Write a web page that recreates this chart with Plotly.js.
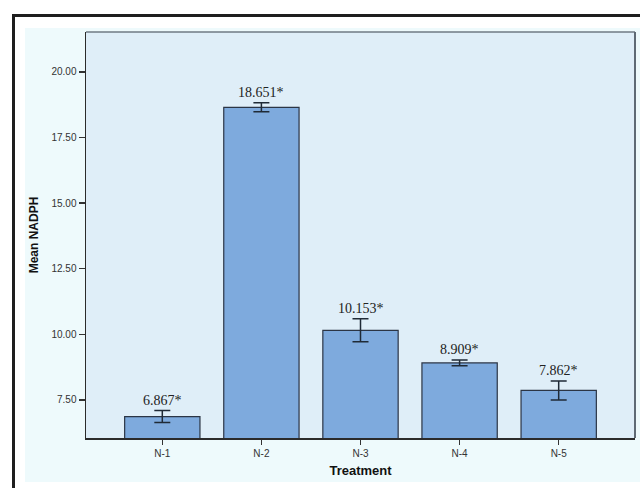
<!DOCTYPE html>
<html>
<head>
<meta charset="utf-8">
<script src="https://cdn.plot.ly/plotly-3.0.1.min.js"></script>
<style>
  html, body { margin: 0; padding: 0; background: #ffffff; width: 640px; height: 488px; overflow: hidden; }
  #frame { position: absolute; left: 12px; top: 14px; width: 700px; height: 600px; border-left: 3px solid #1e1e1e; border-top: 3px solid #1e1e1e; }
  #inner { position: absolute; left: 25px; top: 28px; width: 615px; height: 454px; background: #eefafc; }
  #chart { position: absolute; left: 0; top: 0; width: 640px; height: 488px; }
</style>
</head>
<body>
<div id="frame"></div>
<div id="inner"></div>
<div id="chart"></div>
<script>
const categories = ["N-1", "N-2", "N-3", "N-4", "N-5"];
const meanValues = [6.867, 18.651, 10.153, 8.909, 7.862];
const errorValues = [0.23, 0.17, 0.44, 0.11, 0.36];
const valueLabels = ["6.867*", "18.651*", "10.153*", "8.909*", "7.862*"];
const yTickValues = [7.5, 10, 12.5, 15, 17.5, 20];
const yTickLabels = ["7.50", "10.00", "12.50", "15.00", "17.50", "20.00"];

const trace = {
  type: "bar",
  x: categories,
  y: meanValues,
  width: 0.76,
  marker: { color: "#7eaadd", line: { color: "#2b3545", width: 1.2 } },
  error_y: { type: "data", array: errorValues, visible: true, color: "#1f2a36", thickness: 1.5, width: 8 },
  hoverinfo: "none"
};

const annotations = categories.map((c, i) => ({
  x: c, y: meanValues[i] + errorValues[i], xref: "x", yref: "y",
  text: valueLabels[i], showarrow: false, yanchor: "bottom", yshift: 1,
  font: { family: "Liberation Serif, Times New Roman, serif", size: 14, color: "#222222" }
}));

const layout = {
  width: 640, height: 488,
  margin: { l: 86, r: 5, t: 32, b: 50 },
  paper_bgcolor: "rgba(0,0,0,0)",
  plot_bgcolor: "#dfeef8",
  showlegend: false,
  bargap: 0.24,
  xaxis: {
    type: "category",
    range: [-0.77, 4.77],
    showline: true, linecolor: "#2b2b2b", linewidth: 1.5, mirror: false,
    ticks: "outside", ticklen: 5, tickcolor: "#333333", tickwidth: 1.5,
    tickfont: { family: "Liberation Sans, Arial, sans-serif", size: 10, color: "#333333" },
    showgrid: false, zeroline: false,
    title: { text: "Treatment", font: { family: "Liberation Sans, Arial, sans-serif", size: 13, color: "#111111", weight: "bold" }, standoff: 8 }
  },
  yaxis: {
    range: [6.05, 21.52],
    tickvals: yTickValues, ticktext: yTickLabels,
    showline: true, linecolor: "#2b2b2b", linewidth: 1.5,
    ticks: "outside", ticklen: 6, tickcolor: "#333333", tickwidth: 1.5,
    tickfont: { family: "Liberation Sans, Arial, sans-serif", size: 10, color: "#333333" },
    showgrid: false, zeroline: false,
    title: { text: "Mean NADPH", font: { family: "Liberation Sans, Arial, sans-serif", size: 12, color: "#111111", weight: "bold" }, standoff: 10 }
  },
  shapes: [
    { type: "line", xref: "paper", yref: "paper", x0: 0, x1: 1, y0: 1, y1: 1, line: { color: "#6f7a85", width: 1.5 } },
    { type: "line", xref: "paper", yref: "paper", x0: 1, x1: 1, y0: 0, y1: 1, line: { color: "#5f6a75", width: 2 } }
  ],
  annotations: annotations
};

Plotly.newPlot("chart", [trace], layout, { staticPlot: true, displayModeBar: false });
</script>
</body>
</html>
